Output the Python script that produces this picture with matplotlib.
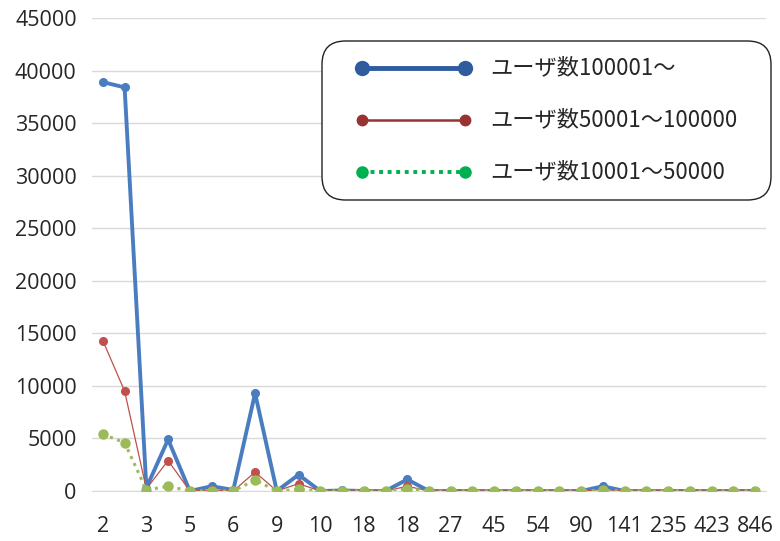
import matplotlib
matplotlib.use("Agg")
import matplotlib.pyplot as plt
from matplotlib.patches import FancyBboxPatch
from matplotlib.lines import Line2D
import numpy as np

plt.rcParams['font.family'] = ['Noto Sans CJK JP', 'DejaVu Sans']

# Category ticks (every other category carries a label)
tick_labels = ["2", "3", "5", "6", "9", "10", "18", "18", "27", "45",
               "54", "90", "141", "235", "423", "846"]

series_names = ["ユーザ数100001～", "ユーザ数50001～100000", "ユーザ数10001～50000"]

users_100001_plus = [38900, 38400, 300, 4900, 0, 450, 100, 9300, 0, 1550,
                     0, 50, 0, 0, 1100, 0, 0, 0, 0, 0,
                     0, 0, 0, 450, 0, 0, 0, 0, 0, 0, 0]
users_50001_100000 = [14300, 9500, 200, 2900, 0, 100, 0, 1800, 0, 700,
                      0, 0, 0, 0, 450, 0, 0, 0, 0, 0,
                      0, 0, 0, 150, 0, 0, 0, 0, 0, 0, 0]
users_10001_50000 = [5400, 4600, 100, 450, 0, 0, 0, 1050, 0, 150,
                     0, 0, 0, 0, 200, 0, 0, 0, 0, 0,
                     0, 0, 0, 50, 0, 0, 0, 0, 0, 0, 0]

W, H = 780, 541
fig = plt.figure(figsize=(W / 100, H / 100), dpi=100)
ax = fig.add_axes([92 / W, 1 - 491 / H, (766 - 92) / W, (491 - 18) / H])

x = np.arange(len(users_100001_plus))

ax.plot(x, users_100001_plus, color="#4A7DC0", lw=2.8, marker="o", ms=5.5,
        solid_joinstyle="round", zorder=3)
ax.plot(x, users_50001_100000, color="#C0504D", lw=0.9, marker="o", ms=5.5,
        zorder=4)
ax.plot(x, users_10001_50000, color="#9BBB59", lw=2.2, ls=(0, (1, 1.5)),
        marker="o", ms=6.5, zorder=5)

ax.set_xlim(-0.5, len(x) - 0.5)
ax.set_ylim(0, 45000)
ax.set_yticks(np.arange(0, 45001, 5000))
ax.set_xticks(x[::2])
ax.set_xticklabels(tick_labels)

ax.grid(axis="y", color="#D9D9D9", lw=1.0)
ax.set_axisbelow(True)
for s in ["top", "right", "left"]:
    ax.spines[s].set_visible(False)
ax.spines["bottom"].set_color("#D9D9D9")
ax.tick_params(length=0, labelsize=15.5, colors="#262626")
ax.tick_params(axis="x", pad=18)
ax.tick_params(axis="y", pad=11)
for lab in ax.get_xticklabels() + ax.get_yticklabels():
    lab.set_fontfamily(["Open Sans", "DejaVu Sans"])


def fp(px, py):
    return (px / W, 1 - py / H)


# Legend panel
x0, y0 = fp(322, 200)
x1, y1 = fp(771, 41)
box = FancyBboxPatch((x0, y0), x1 - x0, y1 - y0,
                     boxstyle="round,pad=0,rounding_size=0.03",
                     transform=fig.transFigure, fc="white", ec="#222222",
                     lw=1.0, zorder=10, mutation_aspect=W / H)
fig.add_artist(box)

legend_styles = [
    dict(color="#2F5C9E", lw=3.5, ls="-", ms=10),
    dict(color="#993333", lw=1.8, ls="-", ms=7.5),
    dict(color="#00B050", lw=2.8, ls=(0, (1, 1.2)), ms=8),
]
for i, (name, st) in enumerate(zip(series_names, legend_styles)):
    yy = 68 + i * 52
    xa, ya = fp(362, yy)
    xb, _ = fp(465, yy)
    fig.add_artist(Line2D([xa, xb], [ya, ya], transform=fig.transFigure,
                          color=st["color"], lw=st["lw"], ls=st["ls"],
                          zorder=11))
    fig.add_artist(Line2D([xa, xb], [ya, ya], transform=fig.transFigure,
                          color=st["color"], lw=0, marker="o", ms=st["ms"],
                          zorder=12))
    tx, ty = fp(490, yy)
    fig.text(tx, ty, name, fontsize=16, fontweight="normal",
             color="#262626", va="center", ha="left", zorder=13)

fig.savefig("out.png", dpi=100, facecolor="white")
